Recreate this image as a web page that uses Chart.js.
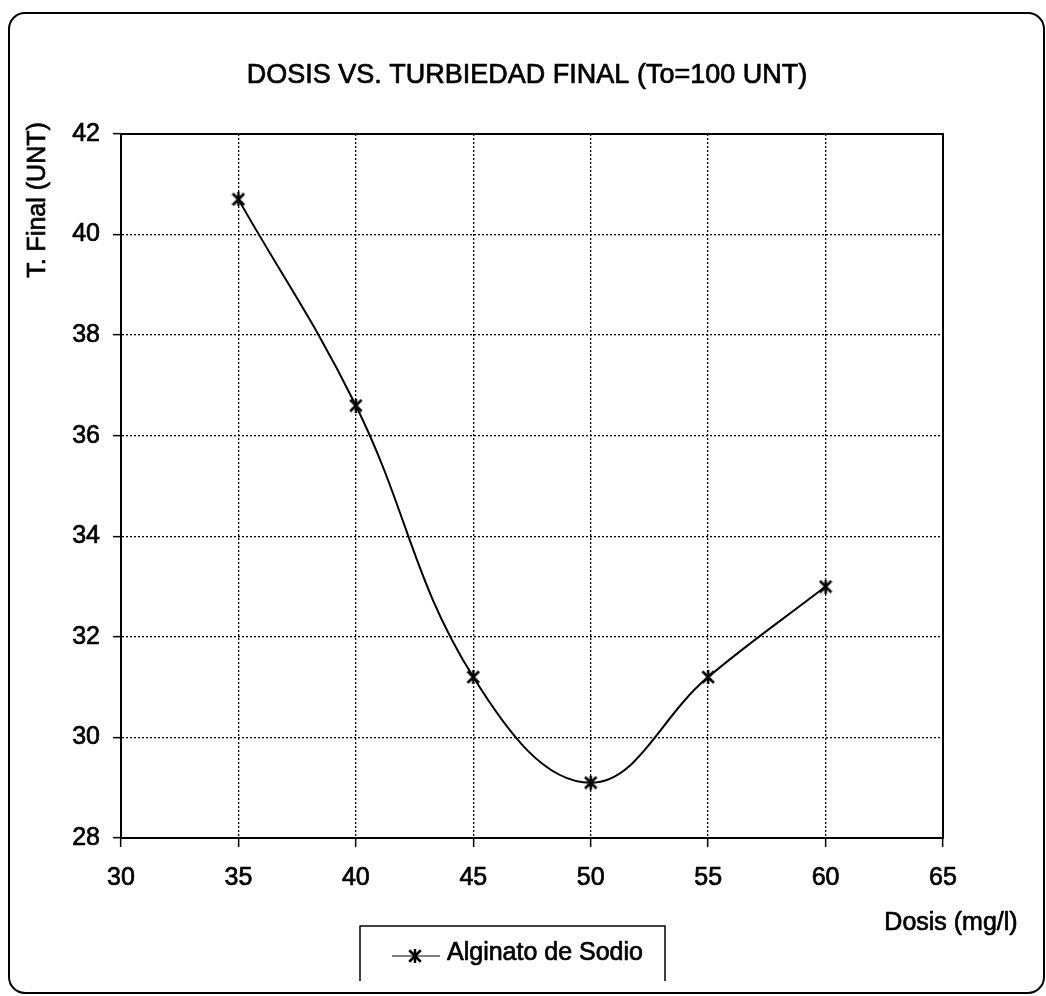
<!DOCTYPE html>
<html>
<head>
<meta charset="utf-8">
<script src="https://cdn.jsdelivr.net/npm/chart.js@4.4.1/dist/chart.umd.min.js"></script>
<style>
  html, body { margin: 0; padding: 0; background: #fff; }
  #wrap { width: 1046px; height: 996px; position: relative; }
  canvas { display: block; }
</style>
</head>
<body>
<div id="wrap"><canvas id="c" width="1046" height="996"></canvas></div>
<script>
// Dose (mg/l) against final turbidity (UNT), initial turbidity 100 UNT
const dosis = [35, 40, 45, 50, 55, 60];
const turbiedadFinal = [40.7, 36.6, 31.2, 29.1, 31.2, 33.0];
const xTicks = [30, 35, 40, 45, 50, 55, 60, 65];
const yTicks = [28, 30, 32, 34, 36, 38, 40, 42];
const seriesName = 'Alginato de Sodio';
const chartTitle = 'DOSIS VS. TURBIEDAD FINAL (To=100 UNT)';
const xTitle = 'Dosis (mg/l)';
const yTitle = 'T. Final (UNT)';

const FONT = '"Liberation Sans", Arial, sans-serif';
const TEXT_STROKE = 0.7;

// Asterisk marker: an X crossed by a vertical stroke
function makeStar(size, lw) {
  const c = document.createElement('canvas');
  c.width = c.height = size;
  const g = c.getContext('2d');
  g.strokeStyle = '#000';
  g.lineWidth = lw;
  const m = lw / 2, s = size - lw / 2;
  g.beginPath();
  g.moveTo(m, m); g.lineTo(s, s);
  g.moveTo(s, m); g.lineTo(m, s);
  g.moveTo(size / 2, 0); g.lineTo(size / 2, size);
  g.stroke();
  return c;
}
const starMarker = makeStar(14, 2.5);

function roundRectPath(ctx, x, y, w, h, r) {
  ctx.beginPath();
  ctx.moveTo(x + r, y);
  ctx.lineTo(x + w - r, y);
  ctx.arcTo(x + w, y, x + w, y + r, r);
  ctx.lineTo(x + w, y + h - r);
  ctx.arcTo(x + w, y + h, x + w - r, y + h, r);
  ctx.lineTo(x + r, y + h);
  ctx.arcTo(x, y + h, x, y + h - r, r);
  ctx.lineTo(x, y + r);
  ctx.arcTo(x, y, x + r, y, r);
  ctx.closePath();
}

// filled text with a thin outline so it reads as heavy as the axis labels
function heavyText(ctx, str, x, y) {
  ctx.fillText(str, x, y);
  ctx.strokeText(str, x, y);
}

const decorations = {
  id: 'decorations',
  beforeDraw(chart) {
    const ctx = chart.ctx;
    ctx.save();
    ctx.fillStyle = '#fff';
    ctx.fillRect(0, 0, chart.width, chart.height);
    ctx.restore();
  },
  afterDraw(chart) {
    const ctx = chart.ctx;
    const a = chart.chartArea;
    ctx.save();

    // solid plot frame
    ctx.strokeStyle = '#000';
    ctx.lineWidth = 2;
    ctx.setLineDash([]);
    ctx.strokeRect(a.left, a.top, a.right - a.left, a.bottom - a.top);

    // outer rounded frame
    ctx.lineWidth = 2;
    roundRectPath(ctx, 9, 13, 1035, 980, 16);
    ctx.stroke();

    ctx.fillStyle = '#000';
    ctx.lineWidth = TEXT_STROKE;
    ctx.lineJoin = 'round';

    // chart title
    ctx.font = '27px ' + FONT;
    ctx.textAlign = 'center';
    ctx.textBaseline = 'middle';
    heavyText(ctx, chartTitle, 527, 76);

    // y axis title
    ctx.font = '25px ' + FONT;
    ctx.save();
    ctx.translate(45, 200);
    ctx.rotate(-Math.PI / 2);
    ctx.textAlign = 'center';
    ctx.textBaseline = 'alphabetic';
    heavyText(ctx, yTitle, 0, 0);
    ctx.restore();

    // x axis title
    ctx.textAlign = 'center';
    ctx.textBaseline = 'middle';
    heavyText(ctx, xTitle, 951, 923);

    // legend box (open at the bottom edge)
    const ds = chart.data.datasets[0];
    ctx.lineWidth = 1.5;
    ctx.beginPath();
    ctx.moveTo(360, 981); ctx.lineTo(360, 926); ctx.lineTo(665, 926); ctx.lineTo(665, 981);
    ctx.stroke();
    ctx.lineWidth = 1;
    ctx.beginPath();
    ctx.moveTo(392, 956); ctx.lineTo(440, 956);
    ctx.stroke();
    const mk = ds.pointStyle;
    ctx.drawImage(mk, 415 - mk.width / 2, 956 - mk.height / 2);
    ctx.lineWidth = TEXT_STROKE;
    ctx.textAlign = 'left';
    ctx.textBaseline = 'middle';
    heavyText(ctx, ds.label, 447, 953);

    ctx.restore();
  }
};

const tickOpts = {
  font: { family: FONT, size: 25 },
  color: '#000',
  textStrokeColor: '#000',
  textStrokeWidth: TEXT_STROKE
};

new Chart(document.getElementById('c'), {
  type: 'line',
  data: {
    datasets: [{
      label: seriesName,
      data: dosis.map((d, i) => ({ x: d, y: turbiedadFinal[i] })),
      borderColor: '#000',
      backgroundColor: '#000',
      borderWidth: 2,
      tension: 0.4,
      fill: false,
      pointStyle: starMarker,
      pointRadius: 7,
      clip: false
    }]
  },
  options: {
    responsive: false,
    animation: false,
    events: [],
    layout: { padding: { top: 134, right: 103, left: 0, bottom: 0 } },
    plugins: {
      legend: { display: false },
      title: { display: false },
      tooltip: { enabled: false }
    },
    scales: {
      x: {
        type: 'linear',
        min: 30,
        max: 65,
        afterBuildTicks: s => { s.ticks = xTicks.map(v => ({ value: v })); },
        afterFit: s => { s.height = 158; },
        ticks: Object.assign({ padding: 16, maxRotation: 0 }, tickOpts),
        grid: { color: '#000', lineWidth: 1.3, tickLength: 9, tickColor: '#000', tickWidth: 1.5 },
        border: { display: true, color: '#000', width: 2, dash: [2, 2] }
      },
      y: {
        type: 'linear',
        min: 28,
        max: 42,
        afterBuildTicks: s => { s.ticks = yTicks.map(v => ({ value: v })); },
        afterFit: s => { s.width = 121; },
        ticks: Object.assign({ padding: 13 }, tickOpts),
        grid: { color: '#000', lineWidth: 1.3, tickLength: 8, tickColor: '#000', tickWidth: 1.5 },
        border: { display: true, color: '#000', width: 2, dash: [2, 2] }
      }
    }
  },
  plugins: [decorations]
});
</script>
</body>
</html>
